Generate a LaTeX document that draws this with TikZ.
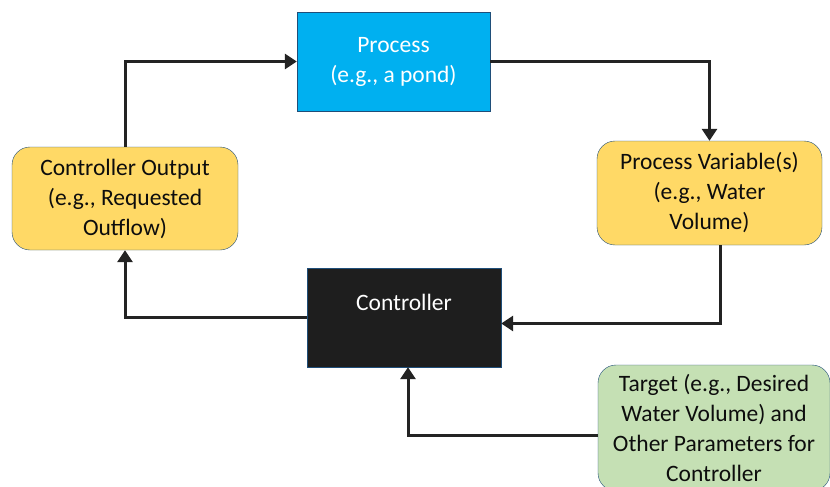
\documentclass[tikz,border=0pt]{standalone}
\usepackage{fontspec}
\setmainfont{Carlito}
\usepackage{xcolor}
\usetikzlibrary{arrows.meta}
\definecolor{edgeblue}{RGB}{31,78,121}
\definecolor{procblue}{RGB}{0,176,240}
\definecolor{varyellow}{RGB}{255,217,102}
\definecolor{targetgreen}{RGB}{197,224,180}
\definecolor{ctrlblack}{RGB}{30,30,30}
\definecolor{linegray}{RGB}{35,35,35}
\tikzset{
    flat-box/.style = {draw=edgeblue, thin, rectangle, align=center, font=\fontsize{23.5}{30}\selectfont},
    rounded-box/.style = {flat-box, rounded corners=18pt, text=black!95},
    feed-arrow/.style = {draw=linegray, line width=3pt, -{Triangle[length=12pt,width=15pt]}},
}

\begin{document}
\begin{tikzpicture}[x=1pt, y=1pt]
\clip (0,0) rectangle (830,-487);
\fill[white] (0,0) rectangle (830,-487);
\node [flat-box, fill=procblue, text=white, minimum width=193pt, minimum height=99pt] (proc) at (393.5,-61.5) {Process\\(e.g., a pond)};
\node [rounded-box, fill=varyellow, minimum width=225pt, minimum height=104pt] (pv) at (709.5,-193) {Process Variable(s)\\(e.g., Water\\Volume)};
\node [rounded-box, fill=varyellow, minimum width=226pt, minimum height=103pt] (co) at (125,-198.5) {Controller Output\\(e.g., Requested\\Outflow)};
\node [flat-box, fill=ctrlblack, text=white, minimum width=194pt, minimum height=99pt] (ctrl) at (404,-317.5) {Controller\\\mbox{}};
\node [rounded-box, fill=targetgreen, minimum width=232pt, minimum height=126pt] (tgt) at (714,-428) {Target (e.g., Desired\\Water Volume) and\\Other Parameters for\\Controller};

\draw [feed-arrow] (co.north) |- (proc.west);
\draw [feed-arrow] (proc.east) -| (pv.north);
\draw [feed-arrow] ([xshift=10.5pt]pv.south) |- ([yshift=-6pt]ctrl.east);
\draw [feed-arrow] (ctrl.west) -| (co.south);
\draw [feed-arrow] ([yshift=-7pt]tgt.west) -| ([xshift=4pt]ctrl.south);
\end{tikzpicture}
\end{document}
